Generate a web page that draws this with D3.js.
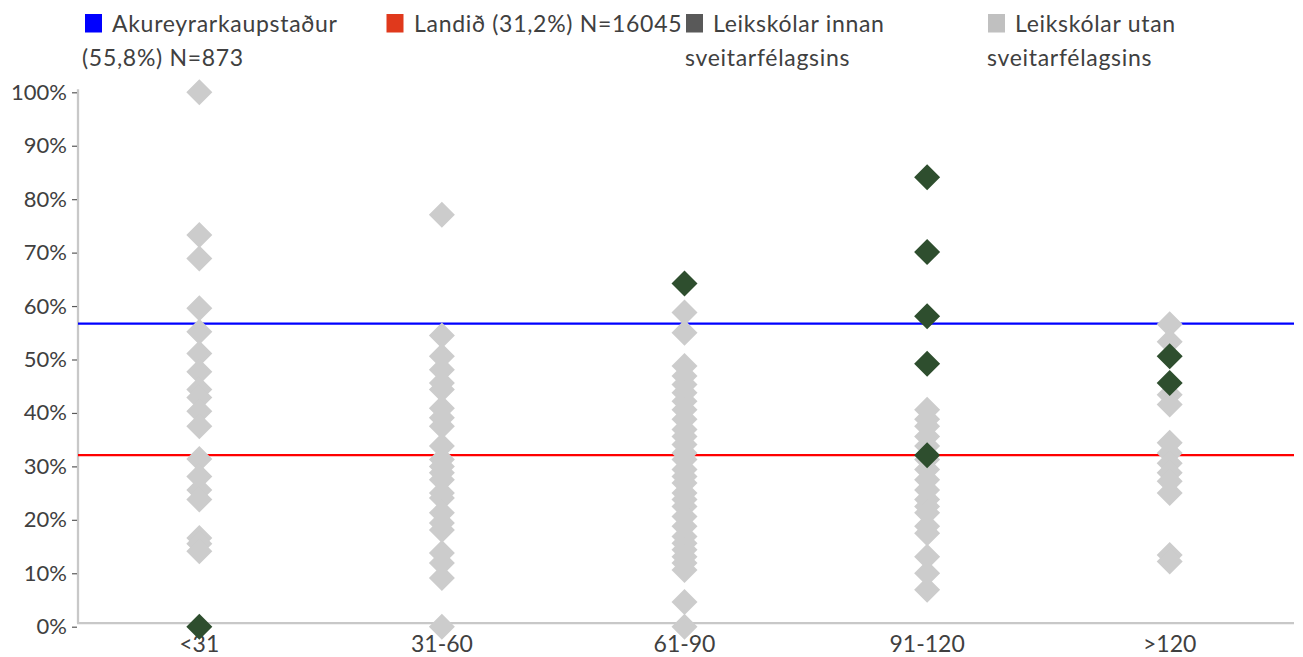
<!DOCTYPE html>
<html>
<head>
<meta charset="utf-8">
<script src="https://cdn.jsdelivr.net/npm/d3@7"></script>
<style>
  html, body { margin: 0; padding: 0; background: #ffffff; }
  svg { display: block; font-family: Lato, "Open Sans", sans-serif; }
</style>
</head>
<body>
<svg id="chart" width="1303" height="657"></svg>
<script>
// ---- data (values in %) ----
const categories = ["<31", "31-60", "61-90", "91-120", ">120"];

// Leikskólar utan sveitarfélagsins (light grey markers)
const outsideLt31   = [100, 73.3, 68.9, 59.6, 55.2, 51.1, 47.7, 44.4, 42.9, 40.3, 37.5, 31.4, 28.1, 25.6, 23.8, 16.6, 15.5, 14.1];
const outside31_60  = [77.1, 54.5, 50.6, 48.1, 45.6, 44.4, 40.9, 39.1, 37.5, 33.8, 31.3, 30, 28.8, 27.5, 25, 24.1, 21.3, 19.4, 18.1, 13.8, 11.9, 9.1, 0];
const outside61_90  = [58.8, 55, 48.8, 46.9, 45.3, 43.8, 42.2, 40.6, 38.8, 36.9, 35.6, 34.1, 32.5, 31.3, 29.4, 28.1, 26.9, 25, 23.8, 22.5, 20.6, 18.8, 16.9, 15.6, 14.4, 13.1, 11.9, 10.6, 4.6, 0];
const outside91_120 = [40.6, 38.8, 37.5, 35.6, 33.8, 31.3, 29.4, 27.5, 25.6, 23.8, 22.5, 21.3, 18.8, 17.5, 13.1, 10, 6.9];
const outsideGt120  = [56.6, 53.3, 43.4, 41.6, 34.4, 32.5, 30.6, 28.8, 27.2, 25, 13.4, 12.2];

// Leikskólar innan sveitarfélagsins (dark green markers)
const insideLt31   = [0];
const inside31_60  = [];
const inside61_90  = [64.2];
const inside91_120 = [84.1, 70.1, 58.1, 49.2, 32.1];
const insideGt120  = [50.6, 45.6];

// reference lines
const municipalityValue = 56.7; // Akureyrarkaupstaður
const nationalValue = 32.1;     // Landið

const yTicks = [0, 10, 20, 30, 40, 50, 60, 70, 80, 90, 100];

const legendItems = [
  { lines: ["Akureyrarkaupstaður", "(55,8%) N=873"], color: "#0000ff" },
  { lines: ["Landið (31,2%) N=16045"], color: "#e0391c" },
  { lines: ["Leikskólar innan", "sveitarfélagsins"], color: "#595959" },
  { lines: ["Leikskólar utan", "sveitarfélagsins"], color: "#c0c0c0" }
];

// ---- build ----
const outsideSets = [outsideLt31, outside31_60, outside61_90, outside91_120, outsideGt120];
const insideSets = [insideLt31, inside31_60, inside61_90, inside91_120, insideGt120];
const outsidePts = [];
outsideSets.forEach((arr, i) => arr.forEach(v => outsidePts.push({ cat: categories[i], v })));
const insidePts = [];
insideSets.forEach((arr, i) => arr.forEach(v => insidePts.push({ cat: categories[i], v })));

const svg = d3.select("#chart");
const plotLeft = 78, plotRight = 1291, plotTop = 92.3, plotBottom = 626.7;

const x = d3.scaleBand().domain(categories).range([plotLeft, plotRight]);
const y = d3.scaleLinear().domain([0, 100]).range([plotBottom, plotTop]);

const textColor = "#404040";

// axis lines
svg.append("line")
  .attr("x1", plotLeft).attr("x2", plotLeft)
  .attr("y1", y(100) - 3).attr("y2", y(0) - 3.5)
  .attr("stroke", "#c8c8c8").attr("stroke-width", 2.3);
svg.append("line")
  .attr("x1", plotLeft - 1).attr("x2", 1294)
  .attr("y1", y(0) - 3.6).attr("y2", y(0) - 3.6)
  .attr("stroke", "#c8c8c8").attr("stroke-width", 2.3);

// y axis
const yAxis = d3.axisLeft(y).tickValues(yTicks).tickFormat(d => d + "%").tickSize(5).tickPadding(5);
const gy = svg.append("g").attr("transform", `translate(${plotLeft - 1},0)`).call(yAxis);
gy.select(".domain").remove();
gy.selectAll(".tick line").attr("stroke", "#595959").attr("stroke-width", 1.2);
gy.selectAll(".tick text").attr("fill", textColor).style("font-size", "22px")
  .style("font-family", "Lato, sans-serif");

// x axis labels
const xAxis = d3.axisBottom(x).tickSize(0).tickPadding(9);
const gx = svg.append("g").attr("transform", `translate(0,${y(0)})`).call(xAxis);
gx.select(".domain").remove();
gx.selectAll(".tick text").attr("fill", textColor).style("font-size", "23px")
  .style("font-family", "Lato, sans-serif");

// reference lines
svg.append("line")
  .attr("x1", plotLeft).attr("x2", 1294)
  .attr("y1", y(municipalityValue)).attr("y2", y(municipalityValue))
  .attr("stroke", "#0000ff").attr("stroke-width", 2.3);
svg.append("line")
  .attr("x1", plotLeft).attr("x2", 1294)
  .attr("y1", y(nationalValue)).attr("y2", y(nationalValue))
  .attr("stroke", "#ff0000").attr("stroke-width", 2.3);

// diamond markers
const half = 13;
const diamond = `M0,${-half}L${half},0L0,${half}L${-half},0Z`;
const cx = d => x(d.cat) + x.bandwidth() / 2;

svg.append("g").selectAll("path").data(outsidePts).join("path")
  .attr("d", diamond)
  .attr("transform", d => `translate(${cx(d)},${y(d.v)})`)
  .attr("fill", "#cccccc");

svg.append("g").selectAll("path").data(insidePts).join("path")
  .attr("d", diamond)
  .attr("transform", d => `translate(${cx(d)},${y(d.v)})`)
  .attr("fill", "#2e4e2e");

// legend
const legendPos = [
  { sx: 85, tx: 112, l2x: 82 },
  { sx: 386.5, tx: 414, l2x: 386 },
  { sx: 686, tx: 713, l2x: 685 },
  { sx: 988, tx: 1015, l2x: 987 }
];
const lg = svg.append("g").style("font-size", "23px").style("letter-spacing", "0.7px");
legendItems.forEach((it, i) => {
  const p = legendPos[i];
  lg.append("rect").attr("x", p.sx).attr("y", 14).attr("width", 17).attr("height", 18.5).attr("fill", it.color);
  lg.append("text").attr("x", p.tx).attr("y", 31.5)
    .attr("fill", textColor).text(it.lines[0]);
  if (it.lines[1]) {
    lg.append("text").attr("x", p.l2x).attr("y", 66)
      .attr("fill", textColor).text(it.lines[1]);
  }
});
</script>
</body>
</html>
